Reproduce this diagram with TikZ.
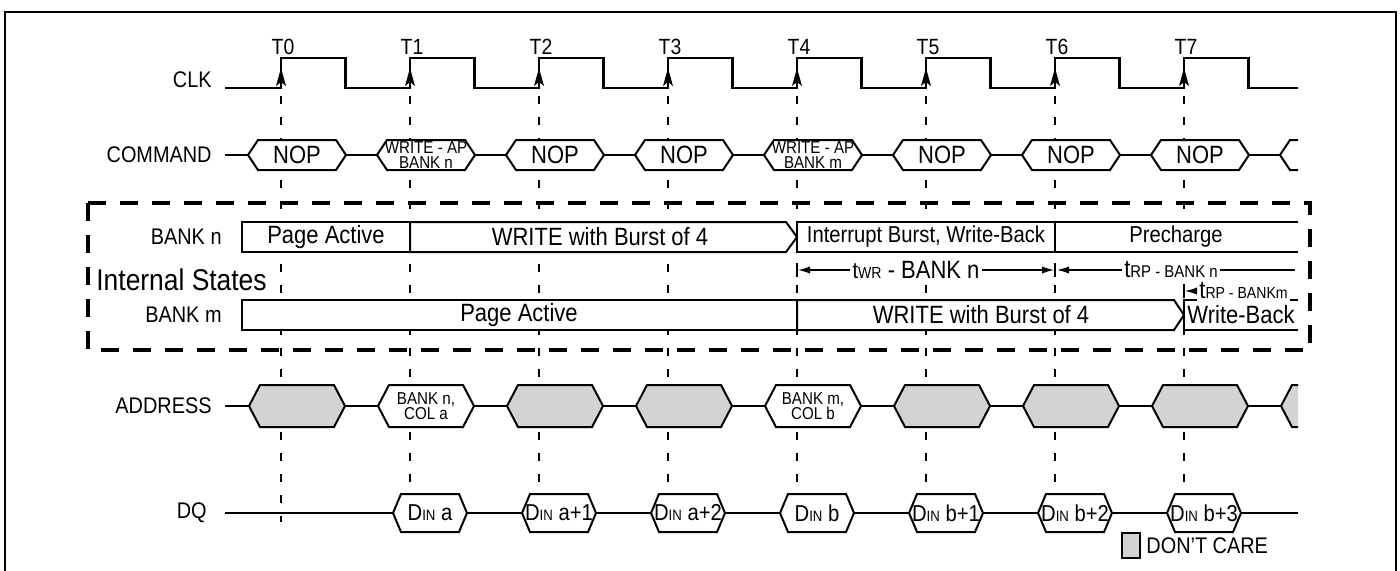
\documentclass[tikz,border=0pt]{standalone}
\usepackage{fontspec}
\setmainfont[FakeStretch=0.88]{Liberation Sans}
\usetikzlibrary{arrows.meta}
\definecolor{dcgray}{RGB}{209,211,212}
\newcommand\tdfs[1]{\fontsize{#1}{#1}\selectfont}
\newcommand\tdHex[6][]{\draw[#1] (#2,#4) -- (#2+#6,#4-#5) -- (#3-#6,#4-#5) -- (#3,#4) -- (#3-#6,#4+#5) -- (#2+#6,#4+#5) -- cycle;}
\begin{document}
\begin{tikzpicture}[x=0.5pt,y=-0.5pt,
  sig/.style={line width=1pt,line join=miter},
  clkline/.style={line width=1.2pt,line join=miter},
  vdash/.style={line width=0.7pt,dash pattern=on 4pt off 6.5pt},
  ibox/.style={line width=1.8pt,dash pattern=on 9pt off 7pt},
  wbox/.style={sig,fill=white},
  gbox/.style={sig,fill=dcgray},
  lbl/.style={anchor=east,inner sep=0pt,font=\tdfs{11.3}},
  tlab/.style={inner sep=0pt,font=\tdfs{11}},
  btxt/.style={inner sep=0pt,font=\tdfs{12.5}},
  ctxt/.style={inner sep=0pt,align=center,font=\fontsize{8.6}{7.6}\selectfont},
  ttxt/.style={inner sep=1pt,fill=white},
  tip/.style={-{Latex[length=6pt,width=3.6pt]},line width=0.6pt}]
\clip (0,0) rectangle (1400,570);
\fill[white] (0,0) rectangle (1400,570);
% outer frame
\draw[line width=1.3pt] (5,620) -- (5,12) -- (1396,12) -- (1396,620);
% timing verticals and labels
\foreach \k [evaluate=\k as \tx using 281+129*\k] in {0,...,7}{
  \draw[vdash] (\tx,96) -- (\tx,522);
  \node[tlab] (t\k) at (\tx+2,47) {T\k};
}
% CLK
\node[lbl] (lclk) at (212,80) {CLK};
\draw[clkline] (225,88) foreach \k in {0,...,7}{ -- (281+129*\k,88) -- (281+129*\k,58) -- (345.5+129*\k,58) -- (345.5+129*\k,88)} -- (1298,88);
\foreach \k [evaluate=\k as \tx using 281+129*\k] in {0,...,7}{
  \fill (\tx,68) -- (\tx+5,86) -- (\tx,82) -- (\tx-5,86) -- cycle;
}
% COMMAND
\node[lbl] (lcmd) at (212,155) {COMMAND};
\begin{scope}
\clip (0,0) rectangle (1298,570);
\draw[sig] (225,155) -- (1298,155);
\tdHex[wbox]{248}{346}{155}{15}{10}
\tdHex[wbox]{377}{475}{155}{15}{10}
\tdHex[wbox]{506}{604}{155}{15}{10}
\tdHex[wbox]{635}{733}{155}{15}{10}
\tdHex[wbox]{764}{862}{155}{15}{10}
\tdHex[wbox]{893}{991}{155}{15}{10}
\tdHex[wbox]{1022}{1120}{155}{15}{10}
\tdHex[wbox]{1151}{1249}{155}{15}{10}
\tdHex[wbox]{1280}{1378}{155}{15}{10}
% ADDRESS
\draw[sig] (225,406) -- (1298,406);
\tdHex[gbox]{249}{345}{406}{21}{11}
\tdHex[wbox]{378}{474}{406}{21}{11}
\tdHex[gbox]{507}{603}{406}{21}{11}
\tdHex[gbox]{636}{732}{406}{21}{11}
\tdHex[wbox]{765}{861}{406}{21}{11}
\tdHex[gbox]{894}{990}{406}{21}{11}
\tdHex[gbox]{1023}{1119}{406}{21}{11}
\tdHex[gbox]{1152}{1248}{406}{21}{11}
\tdHex[gbox]{1281}{1377}{406}{21}{11}
% DQ
\draw[sig] (225,513) -- (1298,513);
\tdHex[wbox]{393}{467}{513}{19}{8}
\tdHex[wbox]{522}{596}{513}{19}{8}
\tdHex[wbox]{651}{725}{513}{19}{8}
\tdHex[wbox]{780}{854}{513}{19}{8}
\tdHex[wbox]{909}{983}{513}{19}{8}
\tdHex[wbox]{1038}{1112}{513}{19}{8}
\tdHex[wbox]{1167}{1241}{513}{19}{8}
\end{scope}
\node[btxt] (c0) at (297,155) {NOP};
\node[ctxt] (c1) at (426,155) {WRITE - AP\\BANK n};
\node[btxt] (c2) at (555,155) {NOP};
\node[btxt] (c3) at (684,155) {NOP};
\node[ctxt] (c4) at (813,155) {WRITE - AP\\BANK m};
\node[btxt] (c5) at (942,155) {NOP};
\node[btxt] (c6) at (1071,155) {NOP};
\node[btxt] (c7) at (1200,155) {NOP};
\node[lbl] (ladr) at (212,406) {ADDRESS};
\node[ctxt] (a1) at (426,406) {BANK n,\\COL a};
\node[ctxt] (a4) at (813,406) {BANK m,\\COL b};
\node[lbl] (ldq) at (207,513) {DQ};
\node[inner sep=0pt] (d1) at (430,513) {\tdfs{11.5}D\tdfs{7.5}IN\tdfs{11.5} a};
\node[inner sep=0pt] (d2) at (559,513) {\tdfs{11.5}D\tdfs{7.5}IN\tdfs{11.5} a+1};
\node[inner sep=0pt] (d3) at (688,513) {\tdfs{11.5}D\tdfs{7.5}IN\tdfs{11.5} a+2};
\node[inner sep=0pt] (d4) at (817,513) {\tdfs{11.5}D\tdfs{7.5}IN\tdfs{11.5} b};
\node[inner sep=0pt] (d5) at (946,513) {\tdfs{11.5}D\tdfs{7.5}IN\tdfs{11.5} b+1};
\node[inner sep=0pt] (d6) at (1075,513) {\tdfs{11.5}D\tdfs{7.5}IN\tdfs{11.5} b+2};
\node[inner sep=0pt] (d7) at (1204,513) {\tdfs{11.5}D\tdfs{7.5}IN\tdfs{11.5} b+3};
% Internal states
\draw[ibox] (88,203) rectangle (1310,350);
\node[lbl] (lbn) at (222,237) {BANK n};
\node[lbl] (lbm) at (222,315) {BANK m};
\node[anchor=west,inner sep=0pt,font=\tdfs{15}] (lint) at (96,280) {Internal States};
% bank n
\draw[wbox] (242,222) rectangle (410,252);
\draw[wbox] (410,222) -- (786,222) -- (797,237) -- (786,252) -- (410,252) -- cycle;
\draw[wbox] (797,222) rectangle (1055,252);
\fill[white] (1055,222) rectangle (1298,252);
\draw[sig] (1298,222) -- (1055,222) -- (1055,252) -- (1298,252);
\node[btxt] (bn1) at (326,237) {Page Active};
\node[btxt] (bn2) at (600,237) {WRITE with Burst of 4};
\node[inner sep=0pt,font=\tdfs{11.5}] (bn3) at (926,237) {Interrupt Burst, Write-Back};
\node[inner sep=0pt,font=\tdfs{11.5}] (bn4) at (1176,237) {Precharge};
% bank m
\draw[wbox] (242,300) rectangle (797,330);
\draw[wbox] (797,300) -- (1174,300) -- (1184,315) -- (1174,330) -- (797,330) -- cycle;
\fill[white] (1184,300) rectangle (1298,330);
\draw[sig] (1298,300) -- (1184,300) -- (1184,330) -- (1298,330);
\node[btxt] (bm1) at (519,315) {Page Active};
\node[btxt] (bm2) at (981,315) {WRITE with Burst of 4};
\node[btxt] (bm3) at (1241,315) {Write-Back};
% timing annotations
\coordinate (w0) at (798,270);
\coordinate (w1) at (1054,270);
\coordinate (p0) at (1057,270);
\coordinate (p1) at (1295,270);
\coordinate (m0) at (1185,291);
\draw[line width=0.6pt] (797,263) -- (797,277) (1055,263) -- (1055,277) (1184,284) -- (1184,298);
\node[ttxt] (twr) at (916,270) {\tdfs{11.5}t\tdfs{8}WR\tdfs{12.5} - BANK n};
\node[ttxt] (trpn) at (1171,270) {\tdfs{12.5}t\tdfs{8.5}RP - BANK n};
\node[ttxt,anchor=west] (trpm) at (1197,291) {\tdfs{12.5}t\tdfs{8}RP - BANKm};
\draw[tip] (twr.west) -- (w0);
\draw[tip] (twr.east) -- (w1);
\draw[tip] (trpn.west) -- (p0);
\draw[line width=0.6pt] (trpn.east) -- (p1);
\draw[tip] (trpm.west) -- (m0);
% legend
\draw[line width=0.8pt,fill=dcgray] (1122,533) rectangle (1140,558);
\node[anchor=west,inner sep=0pt,font=\tdfs{11.3}] (dc) at (1146,546) {DON'T CARE};
\end{tikzpicture}
\end{document}
